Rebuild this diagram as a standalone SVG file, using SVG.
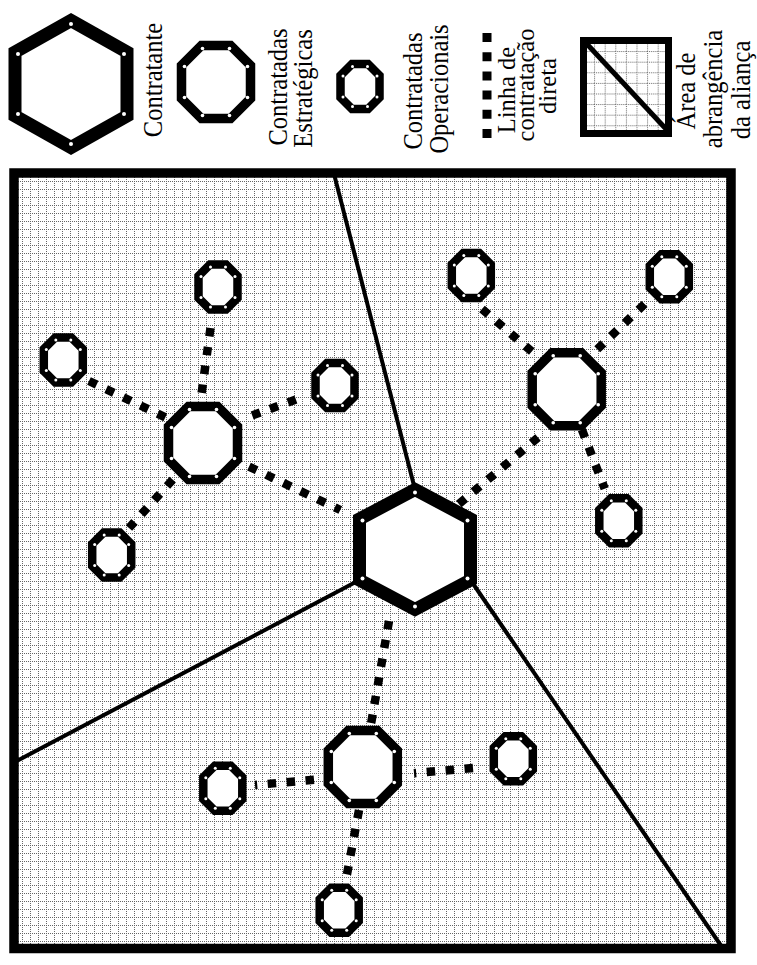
<svg xmlns="http://www.w3.org/2000/svg" width="757" height="965" viewBox="0 0 757 965">
<style>
.hex{fill:#fff;stroke:#000;stroke-width:13;stroke-linejoin:miter}
.strat{fill:#fff;stroke:#000;stroke-width:9.5;stroke-linejoin:miter}
.oper{fill:#fff;stroke:#000;stroke-width:8.5;stroke-linejoin:miter}
.dot{fill:#fff}
.link{stroke:#000;stroke-width:8.5;stroke-dasharray:8.5 10.5;fill:none}
.boundary{stroke:#000;stroke-width:4;fill:none}
.frame{fill:none;stroke:#000;stroke-width:9.5}
.gridline{stroke:#666;stroke-width:1;stroke-dasharray:1 1;fill:none}
.label{font-family:"Liberation Serif","Times New Roman",serif;font-size:24.5px;fill:#000;text-anchor:middle}
</style>
<defs>
<pattern id="grid" patternUnits="userSpaceOnUse" x="14" y="173" width="8" height="8">
<rect width="8" height="8" fill="#fff"/>
<path class="gridline" d="M0 0.5H8M0.5 0V8"/>
</pattern>
<pattern id="grid-legend" patternUnits="userSpaceOnUse" x="583.5" y="40.5" width="10.6" height="10.6">
<rect width="10.6" height="10.6" fill="#fff"/>
<path class="gridline" d="M0 0.5H10.6M0.5 0V10.6"/>
</pattern>
<g id="sym-hex">
<polygon class="hex" points="0,-60 55.5,-30.5 55.5,30.5 0,60 -55.5,30.5 -55.5,-30.5"/>
<g class="dot"><circle cx="0" cy="-57" r="2"/><circle cx="52.5" cy="-29" r="2"/><circle cx="52.5" cy="29" r="2"/><circle cx="0" cy="57" r="2"/><circle cx="-52.5" cy="29" r="2"/><circle cx="-52.5" cy="-29" r="2"/></g>
</g>
<g id="sym-strat">
<polygon class="strat" points="-14.5,-36.5 14.5,-36.5 34.5,-16.5 34.5,16.5 14.5,36.5 -14.5,36.5 -34.5,16.5 -34.5,-16.5"/>
<g class="dot"><circle cx="-13.5" cy="-33.5" r="1.8"/><circle cx="13.5" cy="-33.5" r="1.8"/><circle cx="31.5" cy="-15.5" r="1.8"/><circle cx="31.5" cy="15.5" r="1.8"/><circle cx="13.5" cy="33.5" r="1.8"/><circle cx="-13.5" cy="33.5" r="1.8"/><circle cx="-31.5" cy="15.5" r="1.8"/><circle cx="-31.5" cy="-15.5" r="1.8"/></g>
</g>
<g id="sym-oper">
<polygon class="oper" points="-8,-22.5 8,-22.5 19.5,-11 19.5,11 8,22.5 -8,22.5 -19.5,11 -19.5,-11"/>
<g class="dot"><circle cx="-7.5" cy="-20" r="1.5"/><circle cx="7.5" cy="-20" r="1.5"/><circle cx="17" cy="-10.5" r="1.5"/><circle cx="17" cy="10.5" r="1.5"/><circle cx="7.5" cy="20" r="1.5"/><circle cx="-7.5" cy="20" r="1.5"/><circle cx="-17" cy="10.5" r="1.5"/><circle cx="-17" cy="-10.5" r="1.5"/></g>
</g>
</defs>

<g id="legend">
<g id="legend-contratante">
<polygon class="hex" points="71,20.5 127,52 127,116 71,147.5 15,116 15,52"/>
<g class="dot"><circle cx="71" cy="24" r="2"/><circle cx="124" cy="54" r="2"/><circle cx="124" cy="114" r="2"/><circle cx="71" cy="144" r="2"/><circle cx="18" cy="114" r="2"/><circle cx="18" cy="54" r="2"/></g>
<text class="label" transform="translate(162,80) scale(1.1,1) rotate(-90)">Contratante</text>
</g>
<g id="legend-estrategicas">
<use href="#sym-strat" x="216" y="82"/>
<text class="label" transform="translate(287,87) scale(1.1,1) rotate(-90)">Contratadas</text>
<text class="label" transform="translate(312,88.5) scale(1.1,1) rotate(-90)">Estratégicas</text>
</g>
<g id="legend-operacionais">
<use href="#sym-oper" x="360" y="86.5"/>
<text class="label" transform="translate(422,91) scale(1.1,1) rotate(-90)">Contratadas</text>
<text class="label" transform="translate(448,89) scale(1.1,1) rotate(-90)">Operacionais</text>
</g>
<g id="legend-linha">
<line x1="487" y1="138" x2="487" y2="33" stroke="#000" stroke-width="9" stroke-dasharray="9 10.2"/>
<text class="label" transform="translate(515,90) rotate(-90)">Linha de</text>
<text class="label" transform="translate(534,85) rotate(-90)">contratação</text>
<text class="label" transform="translate(556,86) rotate(-90)">direta</text>
</g>
<g id="legend-area">
<rect x="583.5" y="40.5" width="85" height="93" fill="url(#grid-legend)"/>
<line x1="586" y1="43" x2="666" y2="129" stroke="#000" stroke-width="5"/>
<rect x="583.5" y="40.5" width="85" height="93" fill="none" stroke="#000" stroke-width="7"/>
<text class="label" transform="translate(695,91) scale(1.1,1) rotate(-90)">Área de</text>
<text class="label" transform="translate(722,89) scale(1.1,1) rotate(-90)">abrangência</text>
<text class="label" transform="translate(750,90) scale(1.1,1) rotate(-90)">da aliança</text>
</g>
</g>

<g id="alliance-area">
<rect x="14" y="173" width="717" height="775.5" fill="url(#grid)"/>
<line class="boundary" x1="333" y1="170" x2="415" y2="489.5"/>
<line class="boundary" x1="359.5" y1="580" x2="12" y2="763.5"/>
<line class="boundary" x1="470.5" y1="580" x2="724" y2="950"/>
<rect class="frame" x="14" y="173" width="717" height="775.5"/>
</g>

<g id="connectors">
<line class="link" x1="210.5" y1="328" x2="201.5" y2="394"/>
<line class="link" x1="89" y1="381" x2="167.6" y2="418.4"/>
<line class="link" x1="252.2" y1="415.4" x2="296.5" y2="399.3"/>
<line class="link" x1="172.7" y1="479.7" x2="129" y2="528"/>
<line class="link" x1="249" y1="466.6" x2="340.3" y2="510"/>
<line class="link" x1="482" y1="309" x2="533" y2="352.6"/>
<line class="link" x1="644.6" y1="304" x2="595.4" y2="351"/>
<line class="link" x1="581.9" y1="429.6" x2="604.7" y2="488.7"/>
<line class="link" x1="538" y1="437.4" x2="458.6" y2="504.3"/>
<line class="link" x1="389" y1="621" x2="371" y2="724"/>
<line class="link" x1="473" y1="768" x2="414" y2="773.2"/>
<line class="link" x1="314" y1="779.8" x2="255" y2="785"/>
<line class="link" x1="359" y1="810" x2="345" y2="885"/>
</g>

<g id="contratante"><use href="#sym-hex" x="415" y="549.5"/></g>
<g id="estrategica-1"><use href="#sym-strat" x="203" y="443"/></g>
<g id="estrategica-2"><use href="#sym-strat" x="566.7" y="389.2"/></g>
<g id="estrategica-3"><use href="#sym-strat" x="362.8" y="767"/></g>
<g id="operacional-a"><use href="#sym-oper" x="218" y="287"/></g>
<g id="operacional-b"><use href="#sym-oper" x="63.3" y="360"/></g>
<g id="operacional-c"><use href="#sym-oper" x="335" y="385.5"/></g>
<g id="operacional-d"><use href="#sym-oper" x="111.7" y="555"/></g>
<g id="operacional-e"><use href="#sym-oper" x="471.3" y="275.5"/></g>
<g id="operacional-f"><use href="#sym-oper" x="669.3" y="276.7"/></g>
<g id="operacional-g"><use href="#sym-oper" x="618.8" y="520.8"/></g>
<g id="operacional-h"><use href="#sym-oper" x="222.8" y="788.3"/></g>
<g id="operacional-i"><use href="#sym-oper" x="513.3" y="758.8"/></g>
<g id="operacional-j"><use href="#sym-oper" x="339.2" y="910.3"/></g>
</svg>
